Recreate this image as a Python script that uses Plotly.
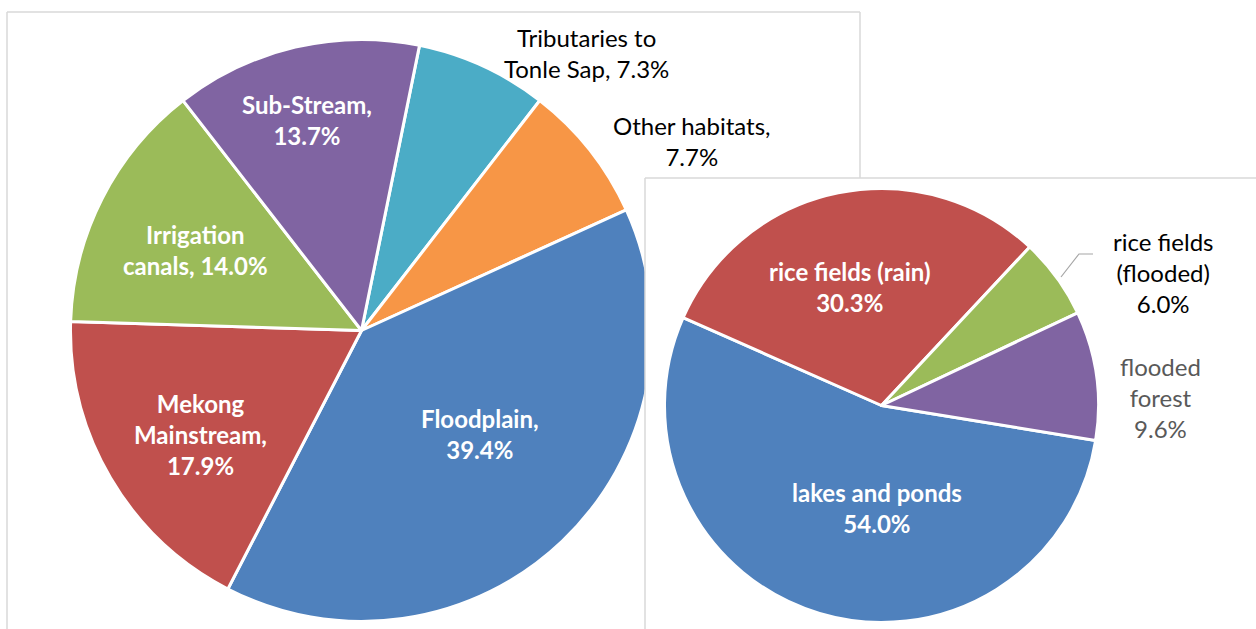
import plotly.graph_objects as go

W, H = 1256, 629

# ---- data ----
habitat_labels = ["Tributaries to Tonle Sap", "Other habitats", "Floodplain",
                  "Mekong Mainstream", "Irrigation canals", "Sub-Stream"]
habitat_values = [7.3, 7.7, 39.4, 17.9, 14.0, 13.7]
habitat_colors = ["#4BACC6", "#F79646", "#4F81BD", "#C0504D", "#9BBB59", "#8064A2"]

flood_labels = ["lakes and ponds", "rice fields (rain)", "rice fields (flooded)", "flooded forest"]
flood_values = [54.0, 30.3, 6.0, 9.6]
flood_colors = ["#4F81BD", "#C0504D", "#9BBB59", "#8064A2"]

FONT = "Lato"


def px_x(x):
    return x / W


def px_y(y):
    return 1 - y / H


def domain(cx, cy, r):
    return dict(x=[px_x(cx - r), px_x(cx + r)], y=[px_y(cy + r), px_y(cy - r)])


fig = go.Figure()
fig.add_trace(go.Pie(
    labels=habitat_labels, values=habitat_values, sort=False, direction="clockwise",
    rotation=11.5, textinfo="none", hoverinfo="label+percent",
    marker=dict(colors=habitat_colors, line=dict(color="white", width=3)),
    domain=domain(361.5, 330.5, 291), showlegend=False,
))
fig.add_trace(go.Pie(
    labels=flood_labels, values=flood_values, sort=False, direction="clockwise",
    rotation=99.3, textinfo="none", hoverinfo="label+percent",
    marker=dict(colors=flood_colors, line=dict(color="white", width=3)),
    domain=domain(881.5, 405.5, 217), showlegend=False,
))

# ---- labels ----
def pct(v):
    return f"{v:.1f}%"

hl = dict(zip(habitat_labels, habitat_values))
fl = dict(zip(flood_labels, flood_values))

ann_specs = [
    # text, x, y, color, bold
    (f"Tributaries to<br>Tonle Sap, {pct(hl['Tributaries to Tonle Sap'])}", 586, 53, "#000000", False),
    (f"Other habitats,<br>{pct(hl['Other habitats'])}", 692, 141, "#000000", False),
    (f"Sub-Stream,<br>{pct(hl['Sub-Stream'])}", 307, 120, "#FFFFFF", True),
    (f"Irrigation<br>canals, {pct(hl['Irrigation canals'])}", 195, 250, "#FFFFFF", True),
    (f"Mekong<br>Mainstream,<br>{pct(hl['Mekong Mainstream'])}", 200, 434, "#FFFFFF", True),
    (f"Floodplain,<br>{pct(hl['Floodplain'])}", 480, 434, "#FFFFFF", True),
    (f"rice fields (rain)<br>{pct(fl['rice fields (rain)'])}", 850, 287, "#FFFFFF", True),
    (f"rice fields<br>(flooded)<br>{pct(fl['rice fields (flooded)'])}", 1163, 272, "#000000", False),
    (f"flooded<br>forest<br>{pct(fl['flooded forest'])}", 1160, 397, "#595959", False),
    (f"lakes and ponds<br>{pct(fl['lakes and ponds'])}", 877, 508, "#FFFFFF", True),
]
annotations = []
for text, x, y, color, bold in ann_specs:
    if bold:
        text = "<b>" + text.replace("<br>", "</b><br><b>") + "</b>"
    annotations.append(dict(
        text=text, x=px_x(x), y=px_y(y), xref="paper", yref="paper",
        xanchor="center", yanchor="middle", showarrow=False,
        font=dict(family=FONT, size=24, color=color), align="center",
    ))

GRAY = "#D9D9D9"
shapes = [
    # left chart frame
    dict(type="line", xref="paper", yref="paper", x0=px_x(7), x1=px_x(860), y0=px_y(12), y1=px_y(12),
         line=dict(color=GRAY, width=1.5)),
    dict(type="line", xref="paper", yref="paper", x0=px_x(7), x1=px_x(7), y0=px_y(12), y1=px_y(640),
         line=dict(color=GRAY, width=1.5)),
    dict(type="line", xref="paper", yref="paper", x0=px_x(860), x1=px_x(860), y0=px_y(12), y1=px_y(178),
         line=dict(color=GRAY, width=1.5)),
    # white cover for right chart box edge
    dict(type="rect", xref="paper", yref="paper", x0=px_x(645), x1=px_x(662), y0=px_y(640), y1=px_y(178),
         fillcolor="white", line=dict(width=0), layer="above"),
    # right chart frame
    dict(type="line", xref="paper", yref="paper", x0=px_x(645), x1=px_x(1260), y0=px_y(178), y1=px_y(178),
         line=dict(color=GRAY, width=1.5), layer="above"),
    dict(type="line", xref="paper", yref="paper", x0=px_x(645), x1=px_x(645), y0=px_y(178), y1=px_y(640),
         line=dict(color=GRAY, width=1.5), layer="above"),
    # leader line for rice fields (flooded)
    dict(type="path", xref="paper", yref="paper",
         path=f"M {px_x(1061)},{px_y(277)} L {px_x(1079)},{px_y(254)} L {px_x(1093)},{px_y(254)}",
         line=dict(color="#A6A6A6", width=1.2), layer="above"),
]

fig.update_layout(
    width=W, height=H, margin=dict(l=0, r=0, t=0, b=0),
    paper_bgcolor="white", plot_bgcolor="white",
    annotations=annotations, shapes=shapes, showlegend=False,
)
fig.write_html("out.html")
